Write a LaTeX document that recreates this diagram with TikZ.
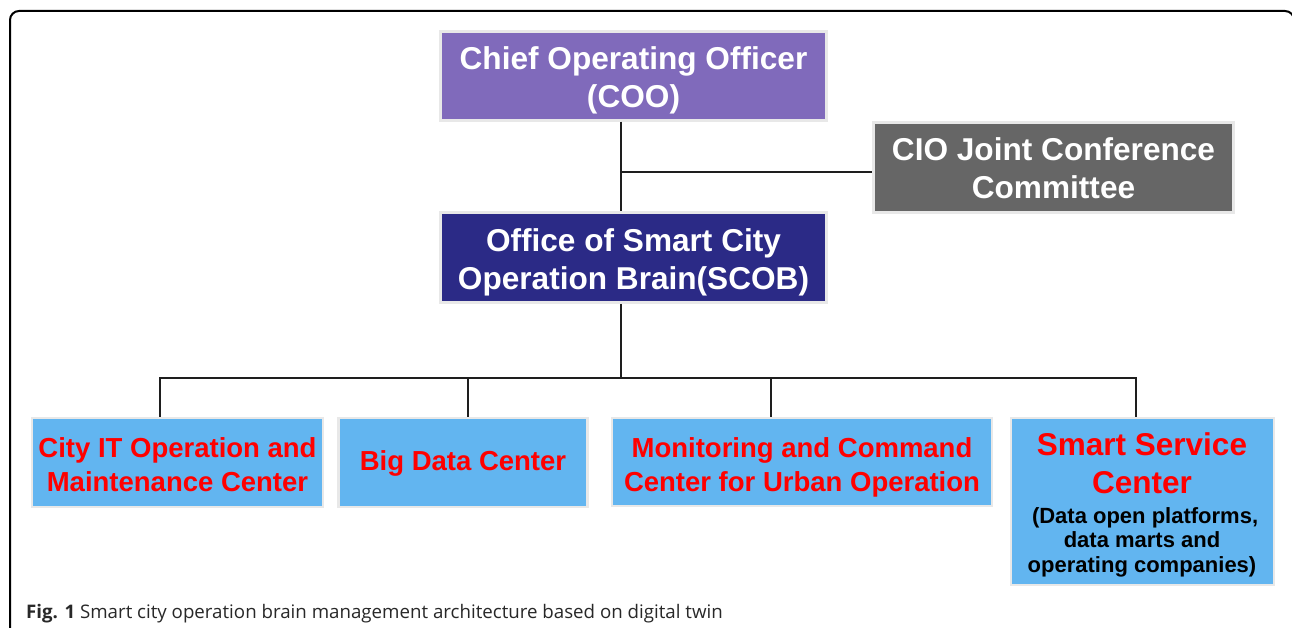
\documentclass[tikz,border=0pt]{standalone}
\usepackage{fontspec}
\setmainfont{Liberation Sans}
\newfontfamily\capfont{Open Sans}
\definecolor{cooPurple}{RGB}{128,106,187}
\definecolor{scobBlue}{RGB}{43,42,134}
\definecolor{cioGray}{RGB}{102,102,102}
\definecolor{unitBlue}{RGB}{98,181,240}
\definecolor{edgeGray}{RGB}{232,232,232}
\definecolor{lineDark}{RGB}{30,30,30}
\definecolor{capGray}{RGB}{40,40,40}
\tikzset{
  orgbox/.style={rectangle, draw=edgeGray, line width=2.5pt, inner sep=0pt, align=center, font=\bfseries},
  topbox/.style={orgbox, text=white, font=\bfseries\fontsize{31.6}{38}\selectfont},
  unitbox/.style={orgbox, fill=unitBlue, text=red, font=\bfseries\fontsize{27.5}{34}\selectfont},
  conn/.style={draw=lineDark, line width=1.6pt},
  frame/.style={draw=black, line width=2pt, rounded corners=9pt}
}
\begin{document}
\begin{tikzpicture}[x=1pt,y=-1pt]
\useasboundingbox (0,0) rectangle (1292,628);
\fill[white] (0,0) rectangle (1292,628);
\draw[frame] (10,660) -- (10,11) -- (1294,11) -- (1294,660);

\node[topbox, fill=cooPurple, minimum width=386pt, minimum height=89pt] (coo) at (633.5,76) {\rule{0pt}{31pt}Chief Operating Officer\\(COO)};
\node[topbox, fill=cioGray, minimum width=360pt, minimum height=90pt] (cio) at (1053.5,167.5) {\rule{0pt}{25pt}CIO Joint Conference\\Committee};
\node[topbox, fill=scobBlue, minimum width=386pt, minimum height=90pt] (scob) at (633.5,257.5) {\rule{0pt}{32pt}Office of Smart City\\Operation Brain(SCOB)};

\node[unitbox, minimum width=291pt, minimum height=89pt] (itc) at (177.5,462.5) {\rule{0pt}{25pt}City IT Operation and\\Maintenance Center};
\node[unitbox, minimum width=249pt, minimum height=89pt] (bdc) at (463,462.5) {\rule{0pt}{22pt}Big Data Center};
\node[unitbox, minimum width=380pt, minimum height=88pt] (mcc) at (802,462) {\rule{0pt}{30pt}Monitoring and Command\\Center for Urban Operation};
\node[orgbox, fill=unitBlue, minimum width=263pt, minimum height=167pt] (ssc) at (1142.5,501.5) {};
\node[text=red, font=\bfseries\fontsize{31.5}{38}\selectfont, align=center, inner sep=0pt, anchor=base] (ssct) at (1142,493) {Smart Service\\Center};
\node[text=black, font=\bfseries\fontsize{22}{24.5}\selectfont, align=center, inner sep=0pt, anchor=base] (sscs) at (1142,572) {\ (Data open platforms,\\data marts and\\operating companies)};

\coordinate (cooB) at (621,121);
\coordinate (scobT) at (621,212);
\coordinate (scobB) at (621,303);
\coordinate (jc) at (621,172);
\coordinate (busM) at (621,378);
\coordinate (busL) at (160,378);
\coordinate (busR) at (1136,378);
\coordinate (bus2) at (468,378);
\coordinate (bus3) at (771,378);
\draw[conn] (coo.south -| cooB) -- (scob.north -| scobT);
\draw[conn] (jc) -- (jc -| cio.west);
\draw[conn] (scob.south -| scobB) -- (busM);
\draw[conn] (itc.north -| busL) -- (busL) -- (busR) -- (ssc.north -| busR);
\draw[conn] (bdc.north -| bus2) -- (bus2);
\draw[conn] (mcc.north -| bus3) -- (bus3);

\node[anchor=base west, inner sep=0pt, text=capGray, font=\capfont\fontsize{18.7}{22}\selectfont] (cap) at (26,618) {\textbf{Fig. 1} Smart city operation brain management architecture based on digital twin};
\end{tikzpicture}
\end{document}
